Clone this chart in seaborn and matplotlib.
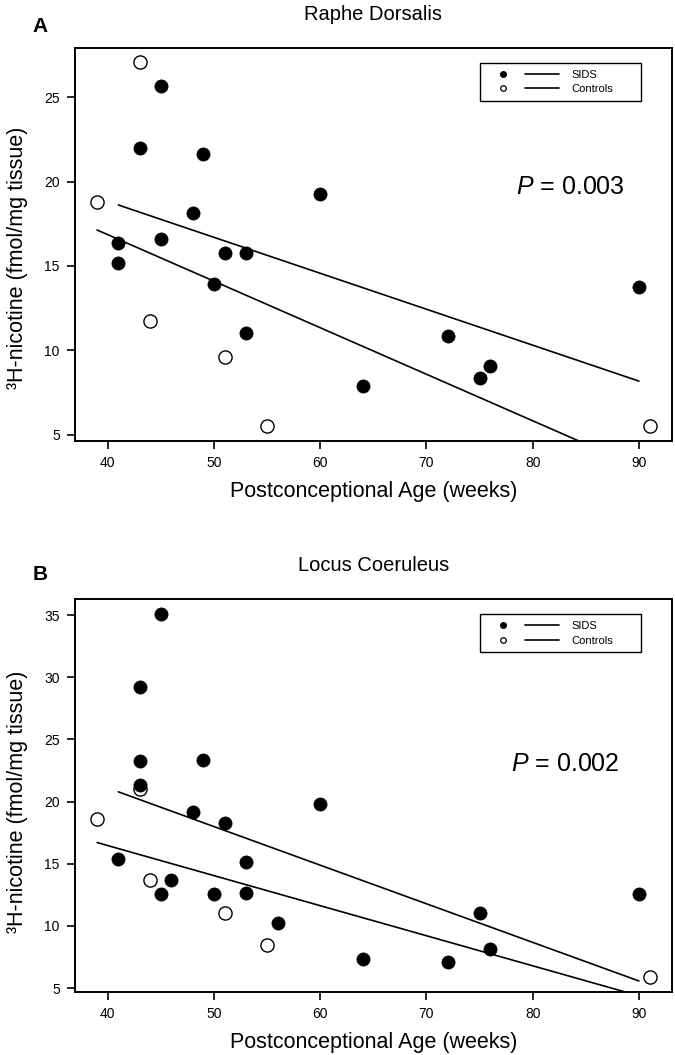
import numpy as np
import pandas as pd
import matplotlib
matplotlib.use("Agg")
import matplotlib.pyplot as plt
from matplotlib.lines import Line2D
from matplotlib.legend_handler import HandlerTuple
import seaborn as sns

# ---------------- data ----------------
# Panel A: Raphe Dorsalis
a_sids_age = [45, 43, 49, 60, 48, 41, 45, 51, 53, 41, 50, 53, 72, 76, 75, 64, 90]
a_sids_val = [25.69, 22.01, 21.66, 19.27, 18.12, 16.38, 16.60, 15.75, 15.75,
              15.16, 13.95, 11.01, 10.85, 9.07, 8.34, 7.89, 13.75]
a_ctrl_age = [43, 39, 44, 51, 55, 91]
a_ctrl_val = [27.07, 18.81, 11.76, 9.58, 5.49, 5.53]

# Panel B: Locus Coeruleus
b_sids_age = [45, 43, 43, 49, 43, 60, 48, 51, 41, 53, 46, 45, 50, 53, 56,
              75, 76, 64, 72, 90]
b_sids_val = [35.13, 29.20, 23.29, 23.32, 21.37, 19.78, 19.14, 18.27, 15.40,
              15.11, 13.66, 12.59, 12.53, 12.64, 10.27, 11.04, 8.13, 7.34,
              7.12, 12.58]
b_ctrl_age = [39, 43, 44, 51, 55, 91]
b_ctrl_val = [18.61, 21.05, 13.66, 11.04, 8.49, 5.88]

titles = ["Raphe Dorsalis", "Locus Coeruleus"]
panel_letters = ["A", "B"]
p_texts = ["0.003", "0.002"]
group_labels = ["SIDS", "Controls"]
x_ticks = [40, 50, 60, 70, 80, 90]
y_ticks = [[5, 10, 15, 20, 25], [5, 10, 15, 20, 25, 30, 35]]

# ---------------- style ----------------
sns.set_style("ticks")
plt.rcParams["font.family"] = ["Liberation Sans", "DejaVu Sans"]
plt.rcParams["mathtext.fontset"] = "custom"
plt.rcParams["mathtext.rm"] = "Liberation Sans"
plt.rcParams["mathtext.it"] = "Liberation Sans:italic"
plt.rcParams["axes.linewidth"] = 1.4
plt.rcParams["axes.edgecolor"] = "black"
plt.rcParams["axes.labelcolor"] = "black"
plt.rcParams["text.color"] = "black"
plt.rcParams["xtick.color"] = "black"
plt.rcParams["ytick.color"] = "black"
plt.rcParams["xtick.labelcolor"] = "black"
plt.rcParams["ytick.labelcolor"] = "black"

fig = plt.figure(figsize=(6.75, 10.55), dpi=100)
ax_a = fig.add_axes([0.1111, 0.5820, 0.8839, 0.3728])
ax_b = fig.add_axes([0.1111, 0.0600, 0.8839, 0.3722])


def r_limits(vals):
    lo, hi = min(vals), max(vals)
    pad = (hi - lo) * 0.04
    return lo - pad, hi + pad


panels = [
    (ax_a, a_sids_age, a_sids_val, a_ctrl_age, a_ctrl_val, (0.739, 0.646), 0.465),
    (ax_b, b_sids_age, b_sids_val, b_ctrl_age, b_ctrl_val, (0.730, 0.579), 0.483),
]

for i, (ax, s_age, s_val, c_age, c_val, ppos, ylab_y) in enumerate(panels):
    df_s = pd.DataFrame({"age": s_age, "val": s_val})
    df_c = pd.DataFrame({"age": c_age, "val": c_val})

    # controls (open) first, then SIDS (filled) on top
    sns.scatterplot(data=df_c, x="age", y="val", ax=ax, s=90,
                    facecolor="white", edgecolor="black", linewidth=1.0,
                    zorder=3)
    sns.scatterplot(data=df_s, x="age", y="val", ax=ax, s=90,
                    color="black", edgecolor="black", linewidth=0.5,
                    zorder=4)
    # regression lines
    sns.regplot(data=df_s, x="age", y="val", ax=ax, scatter=False, ci=None,
                truncate=True, color="black", line_kws={"lw": 1.2, "zorder": 5})
    sns.regplot(data=df_c, x="age", y="val", ax=ax, scatter=False, ci=None,
                truncate=True, color="black", line_kws={"lw": 1.2, "zorder": 5})

    all_age = list(s_age) + list(c_age)
    all_val = list(s_val) + list(c_val)
    ax.set_xlim(*r_limits(all_age))
    ax.set_ylim(*r_limits(all_val))
    ax.set_xticks(x_ticks)
    ax.set_yticks(y_ticks[i])
    ax.tick_params(axis="both", direction="out", length=6, width=1.2,
                   labelsize=10, pad=5, colors="black")
    for sp in ax.spines.values():
        sp.set_visible(True)
        sp.set_linewidth(1.4)

    ax.set_xlabel("Postconceptional Age (weeks)", fontsize=15.5, labelpad=8)
    ax.set_ylabel("\u00b3H-nicotine (fmol/mg tissue)", fontsize=15.5)
    ax.yaxis.set_label_coords(-0.079, ylab_y)
    ax.set_title(titles[i], fontsize=14.5, pad=20)

    ax.text(ppos[0], ppos[1], "$P$ = " + p_texts[i], transform=ax.transAxes,
            fontsize=18, ha="left", va="center")

    # legend: dot + line + label
    h_s = (Line2D([], [], marker="o", ls="none", ms=4, mfc="black",
                  mec="black"),
           Line2D([], [], color="black", lw=1.2))
    h_c = (Line2D([], [], marker="o", ls="none", ms=4, mfc="white",
                  mec="black", mew=0.9),
           Line2D([], [], color="black", lw=1.2))
    leg = ax.legend([h_s, h_c], group_labels,
                    handler_map={tuple: HandlerTuple(ndivide=2, pad=0.45)},
                    loc="upper left", bbox_to_anchor=(0.678, 0.0, 0.270, 0.961),
                    mode="expand",
                    fontsize=8, handlelength=6.57, handletextpad=1.1,
                    borderpad=0.6, labelspacing=0.42, frameon=True,
                    fancybox=False, edgecolor="black", framealpha=1,
                    borderaxespad=0)
    leg.get_frame().set_linewidth(1.0)

fig.text(40 / 675, 1 - 32 / 1055, panel_letters[0], fontsize=15,
         fontweight="bold", ha="center", va="baseline")
fig.text(40 / 675, 1 - 580 / 1055, panel_letters[1], fontsize=15,
         fontweight="bold", ha="center", va="baseline")

fig.savefig("out.png", dpi=100)
